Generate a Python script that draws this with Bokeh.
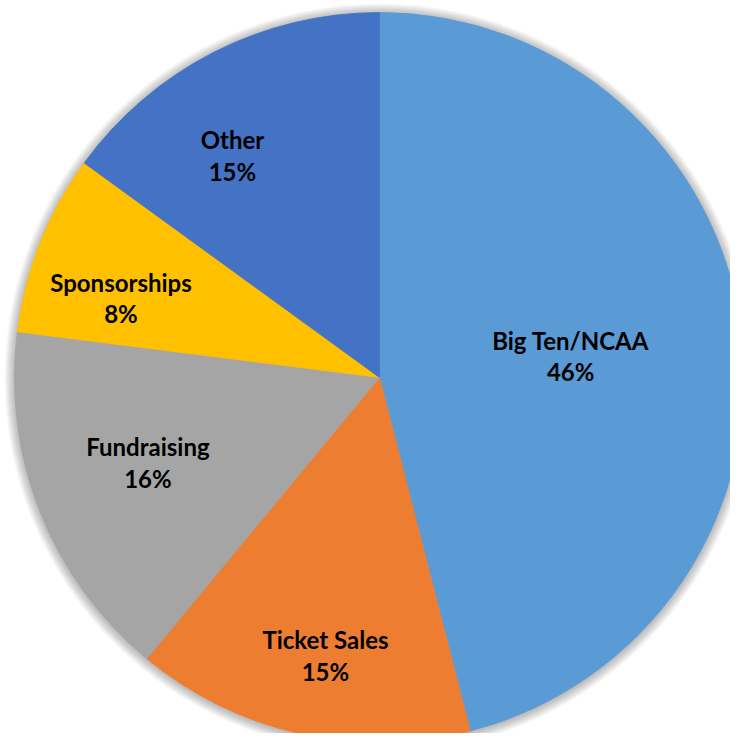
import math
from bokeh.plotting import figure
from bokeh.models import Range1d, ColumnDataSource
from bokeh.core.properties import value
from bokeh.embed import file_html
from bokeh.resources import INLINE

categories = ["Big Ten/NCAA", "Ticket Sales", "Fundraising", "Sponsorships", "Other"]
shares = [46, 15, 16, 8, 15]
colors = ["#5B9BD5", "#ED7D31", "#A5A5A5", "#FFC000", "#4472C4"]
# label placement: radius fraction and angular offset (degrees, clockwise) from slice middle
label_radius = [0.527, 0.776, 0.676, 0.741, 0.730]
label_offset = [0.8, -1.6, 1.4, -4.5, -6.5]

CX, CY, R = 379, -377, 365

p = figure(width=730, height=733, output_backend="svg", toolbar_location=None,
           x_range=Range1d(0, 730), y_range=Range1d(-733, 0), min_border=0)
p.axis.visible = False
p.grid.visible = False
p.outline_line_color = None
p.background_fill_color = "white"
p.border_fill_color = "white"

# soft shadow
for k in range(1, 11):
    p.circle(x=[CX], y=[CY - 1], radius=R + k, fill_color="black", fill_alpha=0.028,
             line_color=None)

total = float(sum(shares))
starts, ends, lx, ly, texts = [], [], [], [], []
cum = 0.0
for cat, s, fr, off in zip(categories, shares, label_radius, label_offset):
    a0 = math.pi / 2 - 2 * math.pi * cum / total
    cum += s
    a1 = math.pi / 2 - 2 * math.pi * cum / total
    starts.append(a0)
    ends.append(a1)
    mid = (a0 + a1) / 2 - math.radians(off)
    lx.append(CX + fr * R * math.cos(mid))
    ly.append(CY + fr * R * math.sin(mid))
    texts.append(f"{cat}\n{s}%")

src = ColumnDataSource(dict(start=starts, end=ends, color=colors, lx=lx, ly=ly, text=texts))
p.wedge(x=CX, y=CY, radius=R, start_angle="start", end_angle="end", direction="clock",
        fill_color="color", line_color="color", line_width=0.8, source=src)
p.text(x="lx", y="ly", text="text", source=src, text_align="center", text_baseline="middle",
       text_font=value("Lato"), text_font_style="bold", text_font_size="24px",
       text_color="black", text_line_height=1.1)

open("out.html", "w").write(file_html(p, INLINE))
